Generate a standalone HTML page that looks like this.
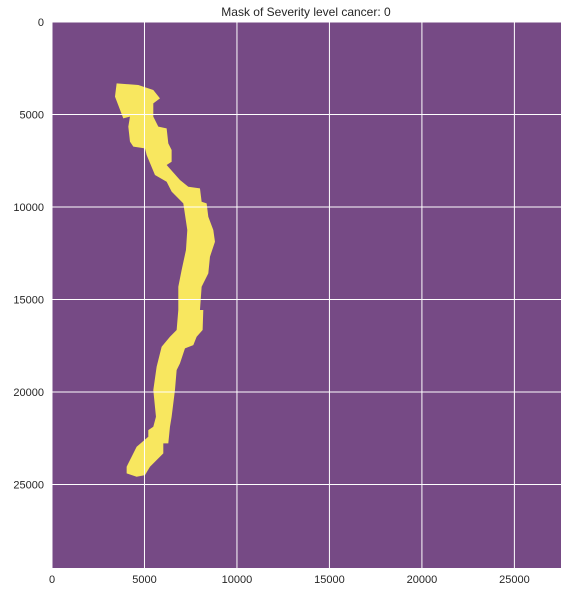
<!DOCTYPE html>
<html><head><meta charset="utf-8"><style>
body{margin:0;background:#fff;}
svg{display:block;font-family:"Liberation Sans","DejaVu Sans",sans-serif;}
</style></head><body>
<svg id="chart" width="569" height="593">
<text x="306" y="16" text-anchor="middle" font-size="12" fill="#262626">Mask of Severity level cancer: 0</text>
<g id="plot"></g>
</svg>
<script>
const xTicks=[0,5000,10000,15000,20000,25000];
const yTicks=[0,5000,10000,15000,20000,25000];
const xMax=27520, yMax=29510;
const maskX=[3495,4666,5477,5838,5477,5477,5748,6198,6288,6468,6468,6198,6919,7370,8000,8090,8360,8451,8721,8811,8541,8451,8090,8000,8180,8144,7820,7640,7189,6919,6739,6648,6468,6378,6288,6018,6018,5297,5027,4576,4036,4036,4576,5207,5207,5477,5621,5477,5657,5928,6378,6739,6829,6829,7009,7243,7315,7099,6468,6198,5567,5117,5027,4396,4216,4126,4216,3855,3405];
const maskY=[3315,3405,3675,4126,4396,5117,5657,5748,6558,6919,7550,7730,8541,8901,8991,9712,9802,10523,11244,11874,12685,13586,14307,15568,15568,16650,17010,17461,17641,18452,18812,19893,21335,21875,22776,22776,23317,24038,24488,24578,24398,24038,22956,22416,22056,21875,21335,19893,18632,17551,17010,16650,15568,14307,13406,12325,11244,9802,9171,8631,8270,7189,6829,6739,6468,5657,5117,5207,4036];
const L=52,T=22,W=509,H=546;
const sx=v=>L+v/xMax*W, sy=v=>T+v/yMax*H;
const NS="http://www.w3.org/2000/svg";
const g=document.getElementById('plot');
function mk(t,a){const e=document.createElementNS(NS,t);for(const k in a)e.setAttribute(k,a[k]);g.appendChild(e);return e;}
const bg=mk('rect',{x:L,y:T,width:W,height:H,fill:'#764a85'});


const poly=mk('polygon',{points:maskX.map((x,i)=>sx(x)+','+sy(maskY[i])).join(' '),fill:'#f8e75f'});


xTicks.forEach(v=>{
  const l=mk('line',{x1:sx(v),x2:sx(v),y1:T,y2:T+H,stroke:'#fff','stroke-width':1});
  
  
  const t=mk('text',{x:sx(v),y:T+H+15,'text-anchor':'middle','font-size':11,fill:'#262626'});
  t.textContent=v;
  
  
});
yTicks.forEach(v=>{
  const l=mk('line',{x1:L,x2:L+W,y1:sy(v),y2:sy(v),stroke:'#fff','stroke-width':1});
  
  
  const t=mk('text',{x:L-8,y:sy(v)+4,'text-anchor':'end','font-size':11,fill:'#262626'});
  t.textContent=v;
  
  
});
</script>
</body></html>
